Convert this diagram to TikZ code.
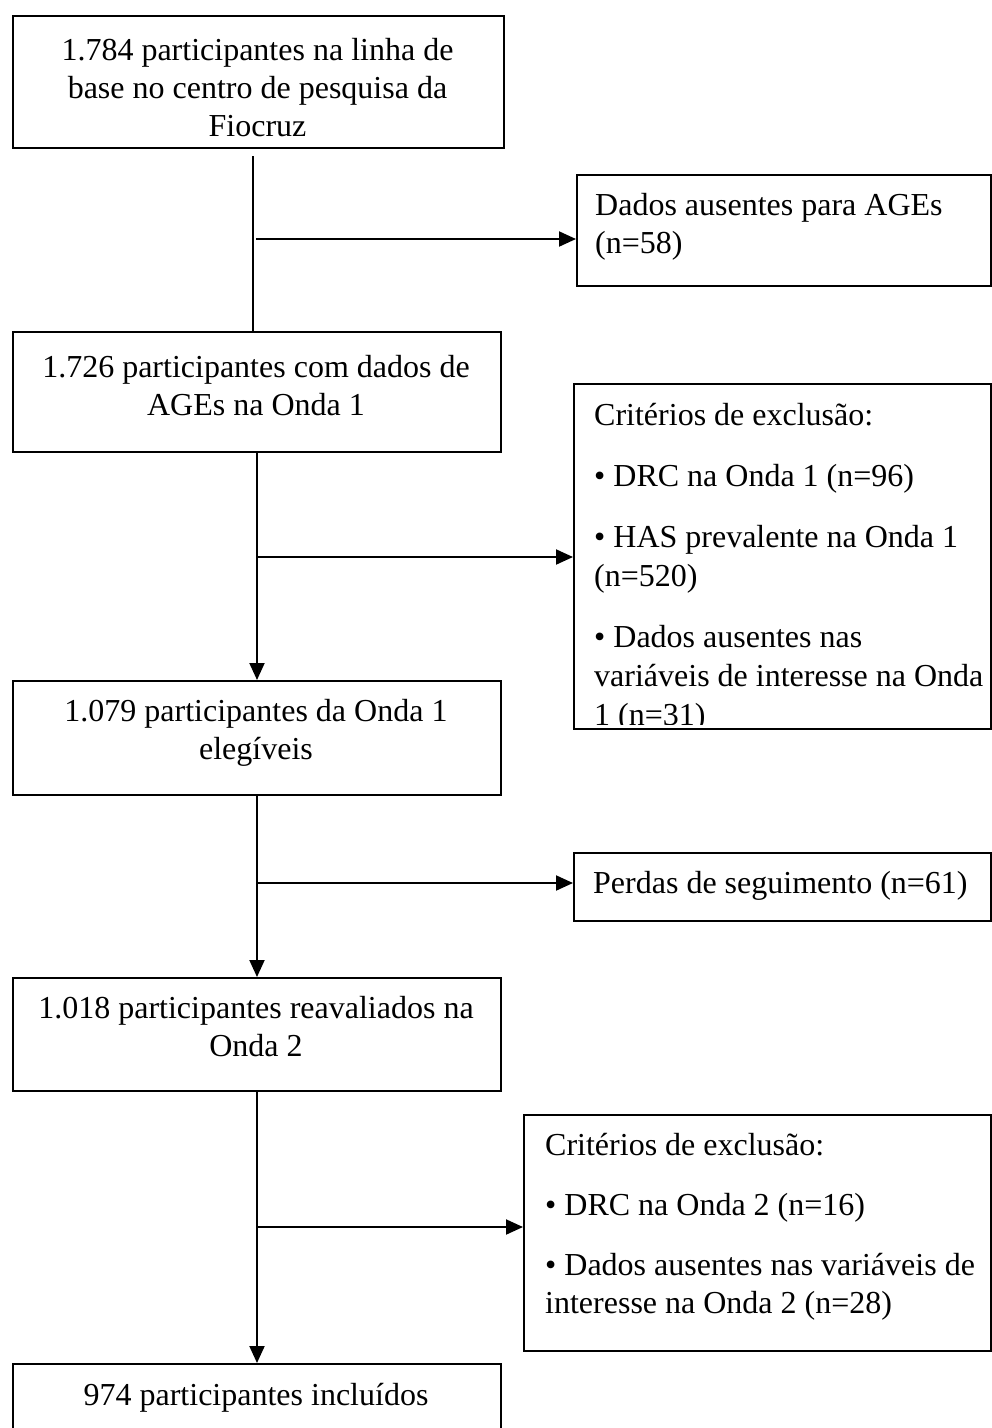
\documentclass[tikz,border=0pt]{standalone}
\usepackage{fontspec}
\setmainfont{Liberation Serif}
\usetikzlibrary{arrows.meta,calc}
\begin{document}
\begin{tikzpicture}[x=1pt,y=-1pt,
  box/.style={draw=black, line width=2pt, rectangle, inner sep=0pt, anchor=north west},
  ctxt/.style={inner sep=0pt, anchor=base, font=\fontsize{32}{38}\selectfont},
  ltxt/.style={inner sep=0pt, anchor=base west, font=\fontsize{32}{38}\selectfont},
  conn/.style={line width=2pt},
  arr/.style={conn, -{Triangle[length=17pt,width=15pt]}}
]
\useasboundingbox (0,0) rectangle (992,1428);
\clip (0,0) rectangle (992,1428);
% main boxes
\node[box, minimum width=491pt, minimum height=132pt] (b1) at (12,15) {};
\node[box, minimum width=488pt, minimum height=120pt] (b2) at (12,331) {};
\node[box, minimum width=488pt, minimum height=114pt] (b3) at (12,680) {};
\node[box, minimum width=488pt, minimum height=113pt] (b4) at (12,977) {};
\node[box, minimum width=488pt, minimum height=100pt] (b5) at (12,1363) {};
% side boxes
\node[box, minimum width=414pt, minimum height=111pt] (e0) at (576,174) {};
\node[box, minimum width=417pt, minimum height=345pt] (e1) at (573,383) {};
\node[box, minimum width=417pt, minimum height=68pt] (e2) at (573,852) {};
\node[box, minimum width=467pt, minimum height=236pt] (e3) at (523,1114) {};
% texts
\node[ctxt] (t1) at (257.5,60) {\parbox[t]{480pt}{\centering 1.784 participantes na linha de\\base no centro de pesquisa da\\Fiocruz}};
\node[ctxt] (t2) at (256,377) {\parbox[t]{480pt}{\centering 1.726 participantes com dados de\\AGEs na Onda 1}};
\node[ctxt] (t3) at (256,721) {\parbox[t]{480pt}{\centering 1.079 participantes da Onda 1\\elegíveis}};
\node[ctxt] (t4) at (256,1018) {\parbox[t]{480pt}{\centering 1.018 participantes reavaliados na\\Onda 2}};
\node[ctxt] (t5) at (256,1405) {974 participantes incluídos};
\node[ltxt] (s0) at (595,215) {\parbox[t]{390pt}{\raggedright Dados ausentes para AGEs\\(n=58)}};
\begin{scope}
\clip (575,385) rectangle (988,724);
\node[ltxt] (s1) at (594,425) {\parbox[t]{400pt}{\fontsize{32}{39}\selectfont\setlength{\parskip}{22pt}\raggedright Critérios de exclusão:\par
• DRC na Onda 1 (n=96)\par
• HAS prevalente na Onda 1\\(n=520)\par
• Dados ausentes nas\\variáveis de interesse na Onda\\1 (n=31)}};
\end{scope}
\node[ltxt] (s2) at (593,893) {Perdas de seguimento (n=61)};
\node[ltxt] (s3) at (545,1155) {\parbox[t]{440pt}{\setlength{\parskip}{22pt}\raggedright Critérios de exclusão:\par
• DRC na Onda 2 (n=16)\par
• Dados ausentes nas variáveis de\\interesse na Onda 2 (n=28)}};
% connectors
\coordinate (v1top) at ($(b1.south)+(-6,7)$);
\draw[conn] (v1top) -- (v1top |- b2.north);
\coordinate (j1) at (256,239);
\draw[arr] (j1) -- (j1 -| e0.west);
\draw[arr] (b2.south) -- (b3.north);
\coordinate (j2) at (256,557);
\draw[arr] (j2) -- (j2 -| e1.west);
\draw[arr] (b3.south) -- (b4.north);
\coordinate (j3) at (256,883);
\draw[arr] (j3) -- (j3 -| e2.west);
\draw[arr] (b4.south) -- (b5.north);
\coordinate (j4) at (256,1227);
\draw[arr] (j4) -- (j4 -| e3.west);
\end{tikzpicture}
\end{document}
